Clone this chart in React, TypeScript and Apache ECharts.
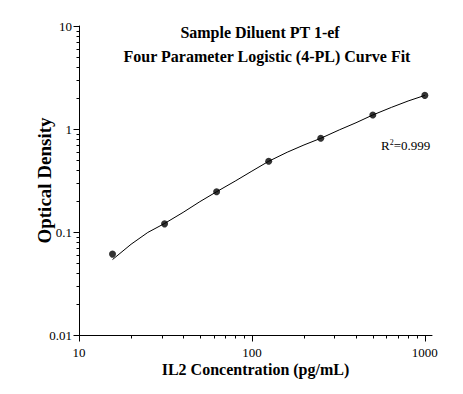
import React, { useEffect, useRef } from 'react';
import * as echarts from 'echarts';

// Measured standards (IL2 pg/mL vs optical density)
const concentrations = [15.625, 31.25, 62.5, 125, 250, 500, 1000];
const odValues = [0.061, 0.12, 0.246, 0.486, 0.812, 1.368, 2.12];

// 4-PL fitted curve
const fitX = [15.625, 20, 25, 31.25, 40, 50, 62.5, 80, 100, 125, 160, 200, 250, 320, 400, 500, 640, 800, 1000];
const fitY = [0.054, 0.076, 0.099, 0.121, 0.155, 0.197, 0.246, 0.312, 0.39, 0.486, 0.595, 0.7, 0.812, 0.98, 1.15, 1.368, 1.62, 1.87, 2.12];

// Axis ticks
const xMajorTicks = [10, 100, 1000];
const xMinorTicks = [20, 30, 40, 50, 60, 70, 80, 90, 200, 300, 400, 500, 600, 700, 800, 900];
const yMajorTicks = [0.01, 0.1, 1, 10];
const yMinorTicks = [0.02, 0.03, 0.04, 0.05, 0.06, 0.07, 0.08, 0.09, 0.2, 0.3, 0.4, 0.5, 0.6, 0.7, 0.8, 0.9, 2, 3, 4, 5, 6, 7, 8, 9];

const titleLines = ['Sample Diluent PT 1-ef', 'Four Parameter Logistic (4-PL) Curve Fit'];
const xName = 'IL2 Concentration (pg/mL)';
const yName = 'Optical Density';
const r2Text = '0.999';

const FONT = 'Liberation Serif';

function tickSeries(values: number[], axis: 'x' | 'y', len: number) {
  return {
    type: 'custom',
    silent: true,
    clip: false,
    z: 5,
    data: values.map((v) => (axis === 'x' ? [v, 0.01] : [10, v])),
    renderItem: (_params: any, api: any) => {
      const p = api.coord([api.value(0), api.value(1)]);
      const x = Math.round(p[0]) + 0.5;
      const y = Math.round(p[1]) + 0.5;
      const shape =
        axis === 'x'
          ? { x1: x, y1: y, x2: x, y2: y + len }
          : { x1: x, y1: y, x2: x - len, y2: y };
      return { type: 'line', shape, style: { stroke: '#000', lineWidth: 1 } };
    },
  };
}

export default function App() {
  const ref = useRef<HTMLDivElement>(null);

  useEffect(() => {
    if (!ref.current) return;
    const chart = echarts.init(ref.current, null, { renderer: 'svg' });
    const isMajorX = (v: number) => xMajorTicks.some((t) => Math.abs(t - v) < t * 1e-6);
    chart.setOption({
      animation: false,
      backgroundColor: '#fff',
      grid: { left: 79, top: 26, right: 31, bottom: 59 },
      xAxis: {
        type: 'log',
        min: 10,
        max: 1100,
        logBase: 10,
        name: xName,
        nameLocation: 'middle',
        nameGap: 26,
        nameMoveOverlap: false,
        nameTextStyle: { fontFamily: FONT, fontWeight: 'bold', fontSize: 16, color: '#000' },
        axisLine: { show: true, onZero: false, lineStyle: { color: '#000', width: 1 } },
        axisTick: { show: false },
        splitLine: { show: false },
        minorTick: { show: false },
        axisLabel: {
          margin: 11,
          fontFamily: FONT,
          fontSize: 13,
          color: '#000',
          formatter: (v: number) => (isMajorX(v) ? String(Math.round(v)) : ''),
        },
      },
      yAxis: {
        type: 'log',
        min: 0.01,
        max: 10,
        logBase: 10,
        name: yName,
        nameLocation: 'middle',
        nameGap: 25,
        nameRotate: 90,
        nameMoveOverlap: false,
        nameTextStyle: { fontFamily: FONT, fontWeight: 'bold', fontSize: 19, color: '#000' },
        axisLine: { show: true, onZero: false, lineStyle: { color: '#000', width: 1 } },
        axisTick: { show: false },
        splitLine: { show: false },
        axisLabel: {
          margin: 7,
          fontFamily: FONT,
          fontSize: 13,
          color: '#000',
          formatter: (v: number) => String(parseFloat(v.toPrecision(3))),
        },
      },
      graphic: [
        {
          type: 'text',
          x: 260,
          y: 32,
          style: { text: titleLines[0], font: `bold 16px ${FONT}`, fill: '#000', align: 'center', verticalAlign: 'middle' },
        },
        {
          type: 'text',
          x: 267,
          y: 56,
          style: { text: titleLines[1], font: `bold 16px ${FONT}`, fill: '#000', align: 'center', verticalAlign: 'middle' },
        },
        {
          type: 'text',
          x: 381,
          y: 145,
          style: {
            text: '{r|R}{s|2}{r|=' + r2Text + '}',
            verticalAlign: 'middle',
            rich: {
              r: { fontFamily: FONT, fontSize: 13, fill: '#000', lineHeight: 14 },
              s: { fontFamily: FONT, fontSize: 8, fill: '#000', verticalAlign: 'top', lineHeight: 14 },
            },
          },
        },
      ],
      series: [
        {
          type: 'line',
          data: fitX.map((x, i) => [x, fitY[i]]),
          showSymbol: false,
          symbol: 'none',
          lineStyle: { color: '#000', width: 1 },
          silent: true,
          z: 2,
        },
        {
          type: 'scatter',
          data: concentrations.map((x, i) => [x, odValues[i]]),
          symbol: 'circle',
          symbolSize: 7,
          itemStyle: { color: '#000' },
          z: 3,
        },
        tickSeries(xMajorTicks, 'x', 6),
        tickSeries(xMinorTicks, 'x', 3),
        tickSeries(yMajorTicks, 'y', 6),
        tickSeries(yMinorTicks, 'y', 3),
      ],
    });
    return () => chart.dispose();
  }, []);

  return (
    <div
      ref={ref}
      style={{ position: 'fixed', left: 0, top: 0, width: 463, height: 394, background: '#fff' }}
    />
  );
}
